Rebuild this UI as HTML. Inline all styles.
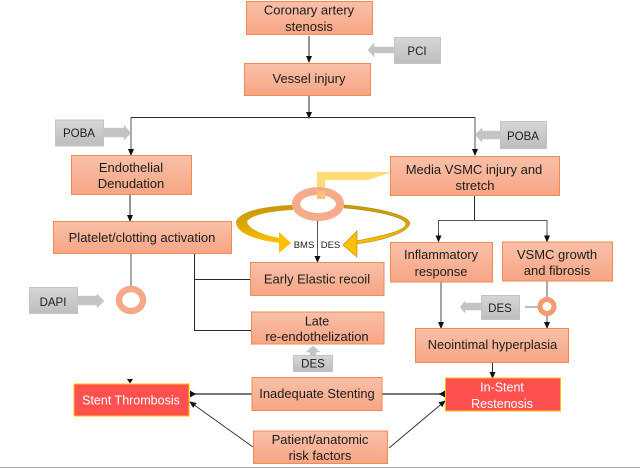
<!DOCTYPE html>
<html><head><meta charset="utf-8"><style>
html,body{margin:0;padding:0;background:#fff}
svg{display:block;filter:blur(.3px)}
text{font-family:"Liberation Sans",sans-serif;fill:#1c1c1c;text-anchor:middle}
</style></head><body>
<svg width="640" height="468" viewBox="0 0 640 468" xmlns="http://www.w3.org/2000/svg">
<defs>
<linearGradient id="o" x1="0" y1="0" x2="0" y2="1"><stop offset="0" stop-color="#f8c0a8"/><stop offset="1" stop-color="#f7a584"/></linearGradient>
<linearGradient id="g" x1="0" y1="0" x2="0" y2="1"><stop offset="0" stop-color="#d6d6d6"/><stop offset="1" stop-color="#bdbdbd"/></linearGradient>
<linearGradient id="y1" x1="0" y1="0" x2="0" y2="1"><stop offset="0" stop-color="#c99a08"/><stop offset="0.5" stop-color="#d9a506"/><stop offset="1" stop-color="#ffc000"/></linearGradient>
<marker id="a" markerWidth="7" markerHeight="6" refX="6" refY="3" orient="auto" markerUnits="userSpaceOnUse"><path d="M0 0L7 3L0 6z" fill="#111"/></marker>
</defs>

<!-- connectors -->
<g fill="none" stroke="#2a2a2a" stroke-width="1">
<path d="M309 36V62" marker-end="url(#a)"/>
<path d="M309 95V118" marker-end="url(#a)"/>
<path d="M131 117.500H475"/>
<path d="M131 117V155" stroke="#555" marker-end="url(#a)"/>
<path d="M475 117V155" stroke="#555" marker-end="url(#a)"/>
<path d="M130 195V221" marker-end="url(#a)"/>
<path d="M474.500 195V220.500"/>
<path d="M438.500 241V220.500H547V241" stroke="#555"/>
<path d="M438.500 233V241.500" marker-end="url(#a)"/>
<path d="M547 233V241.500" marker-end="url(#a)"/>
<path d="M131 253V287" stroke="#555"/>
<path d="M194.500 253V330.500H251"/>
<path d="M194.500 279.500H250"/>
<path d="M441 282V328" stroke="#444" marker-end="url(#a)"/>
<path d="M547 281V328" stroke="#555" marker-end="url(#a)"/>
<path d="M492.500 362V378" marker-end="url(#a)"/>
<path d="M525 307H538" stroke="#777"/>
<path d="M252 394H190" stroke="#777" stroke-width="2"/>
<path d="M382 394H445" stroke="#777" stroke-width="2"/>
<path d="M253 447L190 402" stroke="#333" marker-end="url(#a)"/>
<path d="M389 448L445 401" stroke="#333" marker-end="url(#a)"/>
<path d="M317.500 220V262" stroke="#555" marker-end="url(#a)"/>
</g>
<path d="M190 390.500L196 394L190 397.500z" fill="#111"/>
<path d="M445 390.500L439 394L445 397.500z" fill="#111"/>
<path d="M127 379H133L130 383.500z" fill="#111"/>
<path d="M0 467.500H640" stroke="#aaa" stroke-width="1"/>

<!-- yellow callout -->
<path d="M317 172H392L368 180H325V198H317z" fill="#ffdc78"/>

<!-- swoosh arrows -->
<path d="M293 205C262 206 238 212 236 222C236 235 262 241 280 243V238C262 235 249 229 247 222C249 216 268 211 293 210z" fill="url(#y1)"/>
<path d="M279 232L291 243L279 253z" fill="#ffc000"/>
<path d="M344 205C372 207 408 214 410 223C409 234 375 242 356 244V241C375 237 405 232 406 224C404 216 370 210 344 208z" fill="url(#y1)" stroke="#8a7000" stroke-width=".4"/>
<path d="M357 231L343 245L357 257z" fill="#ffc000" stroke="#a88a10" stroke-width=".6"/>

<!-- rings -->
<ellipse cx="318" cy="204" rx="22" ry="13" fill="#fff" stroke="#f6ab8c" stroke-width="8"/>
<rect x="317" y="191" width="8" height="8" fill="#fbc07c"/>
<ellipse cx="131" cy="300" rx="12" ry="11" fill="#fff" stroke="#f6a98a" stroke-width="6.500"/>
<circle cx="547" cy="306.500" r="7" fill="#fff" stroke="#f29a72" stroke-width="5"/>

<!-- gray arrows -->
<g fill="#c4c4c4" stroke="#c8c8c8" stroke-width=".5">
<path d="M104 128H124V125L131 133L124 140V137H104z"/>
<path d="M394 47H374V43L368 50L374 57V53H394z"/>
<path d="M500 131H482V128L475 135L482 142V139H500z"/>
<path d="M78 296H97V294L104 301L97 308V305H78z"/>
<path d="M481 303H465V301L460 307L465 313V310H481z"/>
<path d="M310 355V352H306L313 346L320 352H316V355z"/>
</g>

<!-- gray boxes -->
<g fill="url(#g)" stroke="#c4c4c4" stroke-width="1">
<rect x="55.500" y="120" width="48" height="26"/>
<rect x="394.500" y="37.500" width="46" height="26"/>
<rect x="500.500" y="121.500" width="46" height="27"/>
<rect x="29.500" y="287.500" width="48" height="26"/>
<rect x="481.500" y="295.500" width="38" height="24"/>
<rect x="293.500" y="355.500" width="39" height="16"/>
</g>

<!-- orange boxes -->
<g fill="url(#o)" stroke="#f28a52" stroke-width="1">
<rect x="246.500" y="1.500" width="126" height="33"/>
<rect x="244.500" y="63.500" width="126" height="32"/>
<rect x="71.500" y="155.500" width="120" height="39"/>
<rect x="53.500" y="221.500" width="178" height="32"/>
<rect x="390.500" y="156.500" width="169" height="39"/>
<rect x="390.500" y="242.500" width="102" height="39.500"/>
<rect x="502.500" y="242" width="110" height="39"/>
<rect x="250.500" y="262.500" width="133.500" height="33"/>
<rect x="251.500" y="312" width="132.500" height="32"/>
<rect x="415.500" y="328.500" width="153" height="34"/>
<rect x="252" y="377.500" width="130" height="33"/>
<rect x="253.500" y="431" width="134" height="32.500"/>
</g>

<!-- red boxes -->
<g fill="#ff5050" stroke="#ffc000" stroke-width="1">
<rect x="74" y="384" width="115" height="32"/>
<rect x="445.500" y="378" width="115" height="33"/>
</g>

<!-- labels -->
<g font-size="13">
<text x="309" y="14.500">Coronary artery</text>
<text x="309" y="31">stenosis</text>
<text x="309" y="83">Vessel injury</text>
<text x="131" y="172">Endothelial</text>
<text x="131" y="188">Denudation</text>
<text x="142" y="242">Platelet/clotting activation</text>
<text x="474" y="174">Media VSMC injury and</text>
<text x="475" y="190">stretch</text>
<text x="441" y="259" font-size="12.800">Inflammatory</text>
<text x="441" y="276" font-size="12.800">response</text>
<text x="557" y="259">VSMC growth</text>
<text x="557" y="275">and fibrosis</text>
<text x="317" y="283.500">Early Elastic recoil</text>
<text x="317" y="325.500" font-size="12.500">Late</text>
<text x="317" y="341">re-endothelization</text>
<text x="492.500" y="349" font-size="12.800">Neointimal hyperplasia</text>
<text x="317" y="398" font-size="12.900">Inadequate Stenting</text>
<text x="320" y="444">Patient/anatomic</text>
<text x="320" y="460">risk factors</text>
</g>
<g font-size="12.500">
<text x="131" y="404.500" style="fill:#fff">Stent Thrombosis</text>
<text x="502" y="391.500" style="fill:#fff">In-Stent</text>
<text x="502" y="408" style="fill:#fff">Restenosis</text>
</g>
<g font-size="11.500">
<text x="79" y="137">POBA</text>
<text x="417" y="55">PCI</text>
<text x="523" y="140">POBA</text>
<text x="53" y="306">DAPI</text>
<text x="500" y="312">DES</text>
<text x="313" y="367.500">DES</text>
</g>
<g font-size="9.500">
<text x="304" y="248">BMS</text>
<text x="330.500" y="248">DES</text>
</g>
</svg>
</body></html>
